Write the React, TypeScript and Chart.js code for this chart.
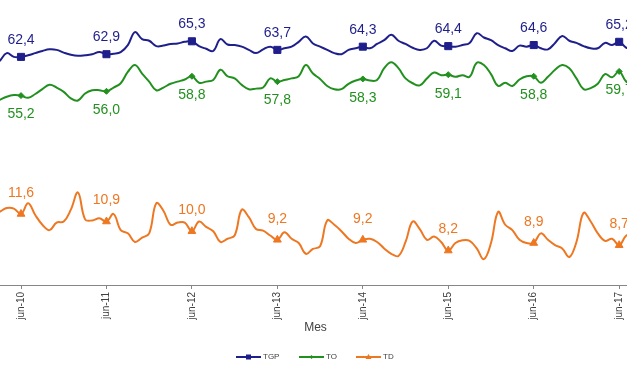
import React, { useEffect, useRef } from "react";
import { Chart, registerables } from "chart.js";

Chart.register(...registerables);

// Month offsets relative to jun-10 (0 = jun-10, 12 = jun-11, ...). Series start at mar-10.
const FIRST_MONTH = -3;

const TICK_LABELS = ["jun-10", "jun-11", "jun-12", "jun-13", "jun-14", "jun-15", "jun-16", "jun-17"];
const TICK_MONTHS = [0, 12, 24, 36, 48, 60, 72, 84];

const TGP = [
  61.6, 63.1, 62.4, 62.4, 62.7, 63.1, 63.5, 63.8, 63.7, 63.2, 62.8, 62.6, 62.7, 62.9, 63.3,
  62.9, 63.0, 63.3, 64.6, 67.0, 65.7, 65.4, 64.4, 64.5, 64.8, 64.9, 65.2,
  65.3, 64.4, 63.9, 63.5, 65.7, 64.7, 64.6, 64.3, 63.7, 63.1, 63.8, 64.3,
  63.7, 64.0, 64.3, 65.2, 66.2, 64.9, 64.3, 63.7, 63.1, 62.9, 63.7, 64.0,
  64.3, 64.0, 64.8, 65.5, 66.5, 65.4, 64.8, 64.1, 63.7, 64.0, 65.4, 64.5,
  64.4, 64.3, 64.6, 65.0, 66.8, 66.0, 65.5, 64.6, 64.0, 63.5, 64.5, 64.3,
  64.6, 64.0, 63.8, 65.0, 66.3, 65.4, 65.0, 64.4, 64.0, 64.0, 65.0, 64.6,
  65.2, 64.1, 64.0,
];

const TO = [
  54.4, 55.0, 55.3, 55.2, 54.8, 55.5, 56.4, 57.2, 56.7, 55.9, 54.7, 54.3, 55.6, 56.2, 56.2,
  56.0, 56.7, 57.5, 59.6, 60.9, 59.3, 57.8, 56.2, 56.7, 57.4, 57.8, 58.2,
  58.8, 57.6, 57.8, 58.1, 60.0, 58.8, 58.4, 57.2, 56.4, 56.5, 56.7, 58.4,
  57.8, 58.1, 58.4, 58.8, 60.9, 59.3, 58.3, 57.0, 56.4, 56.4, 57.4, 58.0,
  58.3, 58.0, 58.1, 60.3, 61.4, 60.3, 58.4, 57.5, 57.1, 58.4, 59.5, 59.0,
  59.1, 58.7, 59.0, 58.7, 61.3, 60.9, 59.2, 57.0, 57.6, 57.0, 58.2, 58.8,
  58.8, 57.6, 58.7, 60.0, 60.9, 60.3, 58.4, 56.4, 56.6, 57.4, 59.2, 58.6,
  59.7, 57.8, 57.5,
];

const TD = [
  11.8, 12.15, 12.1, 11.6, 12.6, 11.5, 10.6, 10.1, 10.8, 10.9, 12.0, 13.6, 11.1, 11.0, 11.2,
  10.9, 11.6, 10.1, 9.8, 9.0, 9.4, 9.8, 12.6, 11.9, 10.6, 10.8, 10.8,
  10.0, 10.9, 10.4, 10.0, 9.0, 9.3, 9.6, 12.0, 11.3, 10.2, 10.05, 9.6,
  9.2, 9.9, 9.3, 8.9, 7.9, 8.35, 8.6, 11.0, 10.6, 10.0, 9.3, 8.9,
  9.2, 9.3, 9.0, 8.4, 7.9, 7.7, 9.0, 10.9, 10.2, 9.2, 9.5, 9.0,
  8.2, 8.9, 9.15, 9.1, 8.4, 7.4, 8.9, 11.8, 10.6, 10.1, 9.2, 8.9,
  8.9, 9.8, 9.2, 8.7, 8.4, 7.6, 9.0, 11.7, 10.9, 9.8, 9.1, 9.3,
  8.7, 9.6, 9.8,
];

const SERIES_NAMES = ["TGP", "TO", "TD"];
const COLORS = ["#1f1f8c", "#22901f", "#ee7722"];
const POINT_STYLES = ["rect", "rectRot", "triangle"];
const POINT_RADII = [5, 3, 4.5];
const LABEL_OFFSETS = [-17, 19, -21];

const FONT = "'Liberation Sans', Arial, sans-serif";

const toPoints = (vals: number[]) => vals.map((v, i) => ({ x: FIRST_MONTH + i, y: v }));
const isMarked = (x: number) => TICK_MONTHS.includes(x);

const junLabelsPlugin = {
  id: "junLabels",
  afterDatasetsDraw(chart: any) {
    const ctx = chart.ctx;
    chart.data.datasets.forEach((ds: any, di: number) => {
      const meta = chart.getDatasetMeta(di);
      meta.data.forEach((el: any, idx: number) => {
        const raw = ds.data[idx];
        if (!isMarked(raw.x)) return;
        ctx.save();
        ctx.font = `14px ${FONT}`;
        ctx.fillStyle = COLORS[di];
        ctx.textAlign = "center";
        ctx.textBaseline = "middle";
        ctx.fillText(raw.y.toFixed(1).replace(".", ","), el.x, el.y + LABEL_OFFSETS[di]);
        ctx.restore();
      });
    });
  },
  afterDraw(chart: any) {
    const ctx = chart.ctx;
    const area = chart.chartArea;
    ctx.save();
    // axis title
    ctx.font = `12px ${FONT}`;
    ctx.fillStyle = "#404040";
    ctx.textAlign = "center";
    ctx.textBaseline = "middle";
    ctx.fillText("Mes", (area.left + area.right) / 2 + 2, area.bottom + 43);
    // legend
    const legendY = area.bottom + 72;
    const starts = [236, 299, 356];
    ctx.font = `8px ${FONT}`;
    ctx.textAlign = "left";
    SERIES_NAMES.forEach((name, i) => {
      const x0 = starts[i];
      ctx.strokeStyle = COLORS[i];
      ctx.lineWidth = 2;
      ctx.beginPath();
      ctx.moveTo(x0, legendY);
      ctx.lineTo(x0 + 25, legendY);
      ctx.stroke();
      ctx.fillStyle = COLORS[i];
      const mx = x0 + 12.5;
      ctx.beginPath();
      if (i === 0) {
        ctx.rect(mx - 2.5, legendY - 2.5, 5, 5);
      } else if (i === 1) {
        ctx.moveTo(mx, legendY - 2);
        ctx.lineTo(mx + 2, legendY);
        ctx.lineTo(mx, legendY + 2);
        ctx.lineTo(mx - 2, legendY);
        ctx.closePath();
      } else {
        ctx.moveTo(mx, legendY - 3);
        ctx.lineTo(mx + 3, legendY + 2);
        ctx.lineTo(mx - 3, legendY + 2);
        ctx.closePath();
      }
      ctx.fill();
      ctx.fillStyle = "#404040";
      ctx.fillText(name, x0 + 27, legendY);
    });
    ctx.restore();
  },
};

export default function App() {
  const ref = useRef<HTMLCanvasElement | null>(null);

  useEffect(() => {
    if (!ref.current) return;
    const seriesValues = [TGP, TO, TD];
    const chart = new Chart(ref.current, {
      type: "line",
      data: {
        datasets: seriesValues.map((vals, i) => ({
          label: SERIES_NAMES[i],
          data: toPoints(vals),
          borderColor: COLORS[i],
          backgroundColor: COLORS[i],
          borderWidth: 2,
          tension: 0.4,
          pointStyle: POINT_STYLES[i] as any,
          pointRadius: (c: any) => (c.raw && isMarked(c.raw.x) ? POINT_RADII[i] : 0),
          pointHoverRadius: 0,
          pointBackgroundColor: COLORS[i],
          pointBorderColor: COLORS[i],
          pointBorderWidth: 1,
          yAxisID: i === 2 ? "y1" : "y",
          fill: false,
        })),
      },
      options: {
        animation: false,
        responsive: false,
        maintainAspectRatio: false,
        events: [],
        layout: { padding: { top: 16, left: 0, right: 0, bottom: 0 } },
        plugins: { legend: { display: false }, tooltip: { enabled: false } },
        scales: {
          x: {
            type: "linear",
            min: -2.95,
            max: 85.1,
            afterBuildTicks: (scale: any) => {
              scale.ticks = TICK_MONTHS.map((v) => ({ value: v }));
            },
            afterFit: (scale: any) => {
              scale.height = 91;
              scale.paddingLeft = 0;
              scale.paddingRight = 0;
            },
            ticks: {
              autoSkip: false,
              minRotation: 90,
              maxRotation: 90,
              padding: 3,
              color: "#404040",
              font: { family: FONT, size: 10 },
              callback: (value: any) => {
                const k = TICK_MONTHS.indexOf(Number(value));
                return k >= 0 ? TICK_LABELS[k] : "";
              },
            },
            grid: {
              display: true,
              drawOnChartArea: false,
              drawTicks: true,
              tickLength: 4,
              color: "#868686",
            },
            border: { display: true, color: "#868686", width: 1 },
          },
          y: { display: false, min: 20, max: 70 },
          y1: { display: false, min: 5, max: 30, position: "right" },
        },
      },
      plugins: [junLabelsPlugin],
    });
    return () => chart.destroy();
  }, []);

  return (
    <div style={{ position: "fixed", left: 0, top: 0, width: 627, height: 376, background: "#fff" }}>
      <canvas ref={ref} width={627} height={376} />
    </div>
  );
}
